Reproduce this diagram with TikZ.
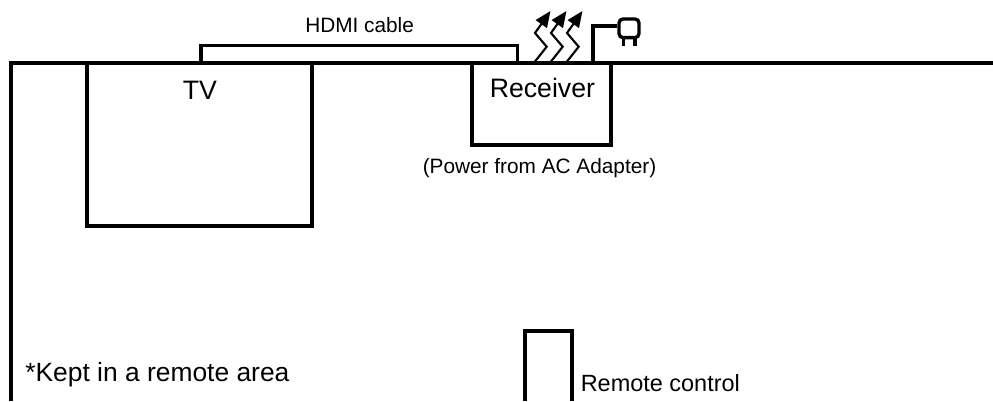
\documentclass[tikz,border=0pt]{standalone}
\usepackage{fontspec}
\setmainfont{Liberation Sans}
\usetikzlibrary{arrows.meta}
\tikzset{
  thick line/.style={draw=black,line width=2.8pt,line cap=butt,line join=miter},
  prong/.style={draw=black,line width=2.5pt},
  wave/.style={draw=black,line width=1.6pt,line join=miter,-{Triangle[length=12pt,width=10pt]}},
  lbl/.style={inner sep=0pt,anchor=base west,text=black},
  big/.style={lbl,font=\fontsize{20}{23}\selectfont},
  small/.style={lbl,font=\fontsize{15.6}{18}\selectfont},
  mid/.style={lbl,font=\fontsize{17.6}{20}\selectfont},
  leftlbl/.style={lbl,font=\fontsize{19.8}{23}\selectfont}
}
\begin{document}
\begin{tikzpicture}[x=0.75pt,y=-0.75pt]
\useasboundingbox (0,0) rectangle (993,401);
\fill[white] (0,0) rectangle (993,401);
\coordinate (wallL) at (11,401);
\coordinate (wallC) at (11,62.7);
\coordinate (wallR) at (993,62.7);
\draw[thick line] (wallL) -- (wallC) -- (wallR);
% TV
\coordinate (tv1) at (87,62.7);
\coordinate (tv2) at (312,226);
\draw[thick line] (tv1) -- (tv1 |- tv2) -- (tv2) -- (tv2 |- tv1);
\node[big] (tvt) at (182.5,99) {TV};
% HDMI
\coordinate (h1) at (201,62.7);
\coordinate (h2) at (517.5,45.5);
\draw[thick line] (h1) -- (h1 |- h2) -- (h2) -- (h2 |- h1);
\node[small] (ht) at (305,32.7) {HDMI cable};
% Receiver
\coordinate (r1) at (472,62.7);
\coordinate (r2) at (610.7,145);
\draw[thick line] (r1) -- (r1 |- r2) -- (r2) -- (r2 |- r1);
\node[big] (rt) at (489.5,97.3) {Receiver};
\node[small] (pt) at (422.5,173.5) {(Power from AC Adapter)};
% waves
\foreach \d in {0,16,32}{
  \coordinate (w0\d) at (535+\d,61.5);
  \coordinate (w1\d) at (546.7+\d,46.7);
  \coordinate (w2\d) at (535+\d,33);
  \coordinate (w3\d) at (550.5+\d,11);
  \draw[wave] (w0\d) -- (w1\d) -- (w2\d) -- (w3\d);
}
% Plug
\coordinate (pc) at (592.7,62.7);
\node[draw=black,line width=2.5pt,rounded corners=3pt,minimum width=15pt,minimum height=14pt,inner sep=0pt] (plug) at (629,28.3) {};
\draw[thick line] (pc) |- ([yshift=2pt]plug.west);
\draw[prong] (623.3,38) -- (623.3,46) (635,38) -- (635,46);
% Remote
\coordinate (c1) at (525,401);
\coordinate (c2) at (572,331);
\draw[thick line] (c1) -- (c1 |- c2) -- (c2) -- (c2 |- c1);
\node[mid] (ct) at (580.5,391.5) {Remote control};
\node[leftlbl] (kt) at (25,381.7) {*Kept in a remote area};
\end{tikzpicture}
\end{document}
